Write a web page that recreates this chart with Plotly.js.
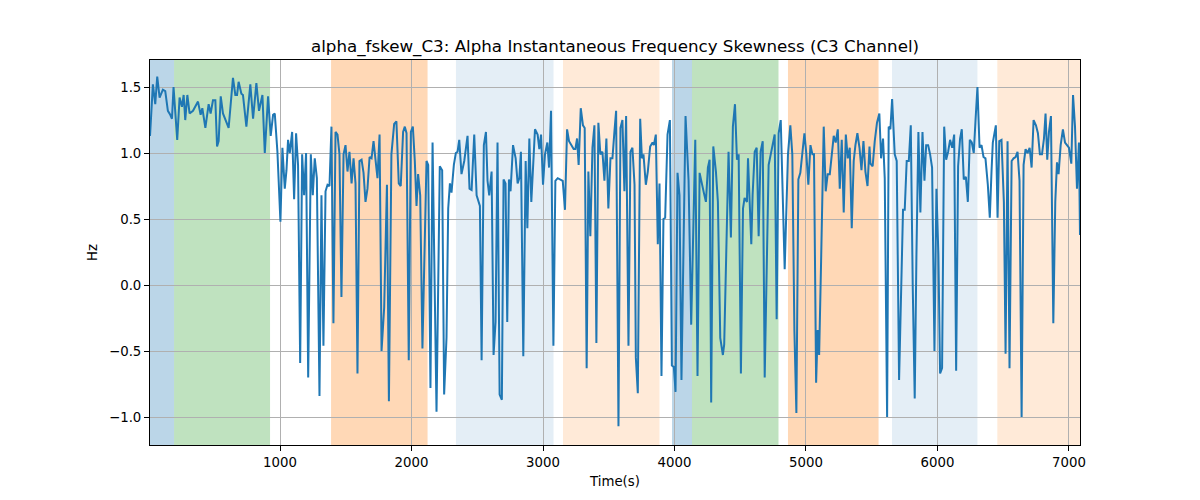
<!DOCTYPE html>
<html>
<head>
<meta charset="utf-8">
<script src="https://cdn.plot.ly/plotly-3.0.1.min.js"></script>
<style>
  body { margin: 0; background: #fff; }
  #chart { width: 1200px; height: 500px; }
</style>
</head>
<body>
<div id="chart"></div>
<script>
// sample times (s) and skewness values (Hz)
var time = [
  11,33,51,66,84,109,127,147,165,178,190,218,236,254,267,279,295,312,338,363,376,396,409,432,457,472,490,508,521,533,549,566,592,609,642,660,673,685,706,718,744,774,795,820,840,866,884,
  909,929,947,960,980,1003,1018,1036,1049,1061,1074,1092,1107,1122,1137,1153,1168,1183,1198,1214,1234,1249,1264,1280,1300,1315,1330,1346,1361,1376,1391,1406,1422,1437,1452,1467,1483,1498,1513,1528,1544,1559,1574,1589,1604,1620,1635,1650,1665,1681,1696,1711,1726,1741,1757,1772,1792,1813,1828,
  1847,1868,1885,1903,1918,1936,1949,1962,1979,1995,2010,2025,2038,2050,2066,2083,2114,2127,2144,2160,2190,2215,2233,2248,2266,2279,2292,2304,2322,2337,2350,2363,2380,2401,2426,2441,2457,2477,2495,2520,2533,2550,2566,2578,2591,2609,2624,2639,2654,2670,2687,2700,2715,2728,2741,2753,
  2772,2792,2807,2820,2832,2850,2868,2881,2896,2911,2939,2959,2972,2985,3000,3015,3033,3046,3061,3079,3094,3112,3137,3150,3167,3183,3198,3218,3233,3246,3259,3271,3287,3304,3317,3332,3345,3360,3376,3391,3406,3421,3436,3452,3467,3482,3497,3513,3528,3543,3556,3574,3589,3604,3619,3632,3650,3665,3680,
  3696,3706,3721,3739,3752,3764,3782,3797,3815,3833,3843,3858,3873,3886,3901,3916,3929,3947,3965,3980,3995,4008,4023,4038,4053,4084,4107,4127,4158,4175,4191,4208,4223,4239,4254,4267,4279,4295,4315,4330,4348,4368,4378,4411,4429,4444,4460,4475,4488,4505,4521,4533,4551,4559,4584,
  4594,4610,4625,4640,4655,4671,4686,4704,4716,4732,4747,4762,4777,4792,4808,4823,4838,4863,4881,4896,4912,4927,4942,4957,4973,4988,5003,5018,5034,5049,5061,5077,5089,5100,5115,5135,5150,5165,5181,5196,5211,5226,5242,5257,5272,5287,5303,5318,5333,5348,5363,5376,5391,5407,5422,5437,5452,5468,5483,
  5490,5507,5523,5540,5558,5571,5586,5599,5617,5629,5642,5655,5675,5690,5708,5726,5738,5751,5766,5782,5797,5812,5827,5840,5855,5870,5886,5901,5914,5929,5944,5959,5977,5992,6007,6020,6035,6051,6066,6081,6096,6112,6127,6142,6157,6172,6185,6200,6216,6231,6246,6261,6276,6289,6304,6320,6335,6350,6365,6383,6398,6411,6421,
  6444,6457,6470,6487,6505,6518,6533,6548,6564,6579,6594,6609,6624,6640,6655,6670,6685,6701,6716,6731,6749,6764,6779,6795,6810,6822,6835,6848,6863,6881,6896,6909,6921,6937,6954,6970,6985,7000,7018,7031,7046,7061,7076,7084
];
var hz = [
  1.13,1.52,1.37,1.58,1.42,1.48,1.47,1.32,1.29,1.26,1.50,1.10,1.42,1.35,1.44,1.25,1.44,1.30,1.32,1.37,1.39,1.29,1.34,1.19,1.37,1.30,1.40,1.40,1.05,1.09,1.43,1.30,1.24,1.19,1.57,1.44,1.44,1.54,1.45,1.44,1.20,1.52,1.26,1.53,1.32,1.44,1.00,
  1.43,1.13,1.29,1.30,1.01,0.48,1.04,0.73,0.87,1.10,1.00,1.16,0.65,1.15,0.91,-0.59,0.99,0.68,1.00,-0.70,0.99,0.68,0.96,0.81,-0.84,0.68,-0.46,0.71,0.76,0.75,1.20,-0.29,1.16,1.14,0.99,-0.09,0.99,1.06,0.86,1.01,0.77,0.96,0.77,-0.67,0.94,0.95,0.85,0.63,0.73,0.97,0.96,1.09,0.92,0.81,1.14,-0.50,-0.17,0.76,-0.88,
  0.99,1.22,1.24,0.77,0.75,1.16,1.20,1.15,-0.57,1.16,1.20,0.94,0.60,0.84,0.68,-0.48,0.94,0.91,-0.78,1.08,-0.96,0.90,0.87,-0.83,-0.40,0.58,0.77,0.70,0.91,1.00,1.01,1.10,0.84,0.94,1.13,0.73,0.72,1.14,0.68,0.60,-0.57,1.06,1.16,0.79,0.68,0.86,-0.53,-0.28,1.08,-0.83,-0.87,0.80,0.77,-0.28,0.80,0.71,
  1.06,0.96,0.77,0.81,1.01,-0.54,0.94,0.43,1.11,0.63,1.18,1.14,1.03,1.14,0.76,0.99,1.08,0.89,1.32,-0.46,0.79,0.81,0.80,0.79,0.57,1.18,1.09,1.05,1.03,1.03,1.11,0.91,1.34,1.21,1.19,-0.63,0.86,0.37,1.04,1.21,-0.44,1.23,0.99,1.01,0.79,1.11,0.58,0.96,0.96,1.16,1.32,-1.07,1.19,1.25,0.71,1.28,-0.46,1.01,1.04,
  0.76,-0.55,-0.82,1.26,0.96,0.99,0.76,0.86,1.05,1.08,1.06,1.14,0.31,0.77,-0.69,0.50,0.51,1.14,1.25,-0.61,-0.62,-0.81,0.85,0.68,-0.72,1.28,0.79,-0.30,1.10,-0.69,0.85,0.76,0.70,0.63,0.89,0.95,-0.89,1.05,0.86,0.63,-0.40,-0.53,-0.45,1.01,0.36,1.20,1.37,0.95,0.99,-0.67,0.58,0.66,0.63,0.96,0.31,
  0.68,1.01,1.04,0.37,1.01,1.09,-0.70,0.23,0.91,0.99,1.08,1.14,-0.26,1.15,1.25,0.68,0.12,0.99,1.21,0.99,-0.35,-0.97,0.80,0.85,1.00,1.15,0.99,0.76,1.06,0.99,0.99,-0.74,-0.34,-0.53,0.18,1.20,0.71,0.84,0.84,1.01,1.13,1.08,1.18,0.73,1.10,0.55,1.14,0.96,1.04,0.43,0.94,1.06,1.15,1.04,0.87,1.09,0.86,0.75,1.05,
  0.92,0.90,1.09,1.23,1.30,0.96,1.11,0.81,-1.00,1.20,1.18,1.41,0.99,0.94,-0.72,0.23,0.57,0.57,0.94,0.94,1.21,-0.02,-0.86,0.23,1.16,0.55,1.16,0.79,1.06,1.06,0.99,0.89,-0.50,0.73,0.23,-0.67,-0.63,1.20,0.95,1.01,1.10,1.04,1.14,-0.65,0.90,1.11,1.18,0.80,0.82,0.63,1.10,1.08,1.00,1.24,1.50,1.04,1.06,0.97,0.96,0.76,0.51,0.86,1.08,
  1.21,0.51,1.09,1.10,0.63,-0.52,1.09,-0.63,0.94,0.96,0.97,1.01,0.79,-1.00,0.91,1.03,1.00,1.04,0.89,1.25,1.21,1.15,0.99,0.99,1.11,1.30,0.95,1.16,1.28,-0.29,0.63,0.93,0.84,1.06,1.18,1.08,1.06,1.04,0.92,1.44,1.20,0.73,1.08,0.38
];

// shaded intervals (s)
var spanStart = [11, 194, 1388, 2338, 3152, 3981, 4133, 4863, 5654, 6455];
var spanEnd   = [194, 924, 2122, 3080, 3886, 4133, 4791, 5552, 6304, 7084];
var spanKind  = ['blue', 'green', 'orange', 'lightblue', 'lightorange', 'blue', 'green', 'orange', 'lightblue', 'lightorange'];

var spanColors = {
  blue: 'rgba(31,119,180,0.3)',
  green: 'rgba(44,160,44,0.3)',
  orange: 'rgba(255,127,14,0.3)',
  lightblue: 'rgba(31,119,180,0.12)',
  lightorange: 'rgba(255,127,14,0.16)'
};

var shapes = spanStart.map(function (s, i) {
  return {
    type: 'rect', xref: 'x', yref: 'paper',
    x0: s, x1: spanEnd[i], y0: 0, y1: 1,
    fillcolor: spanColors[spanKind[i]],
    line: {width: 0},
    layer: 'below'
  };
});

var trace = {
  x: time,
  y: hz,
  mode: 'lines',
  type: 'scatter',
  line: {color: '#1f77b4', width: 2},
  hoverinfo: 'x+y'
};

var font = {family: 'DejaVu Sans, sans-serif', color: '#000'};

var layout = {
  width: 1200,
  height: 500,
  margin: {l: 150, r: 120, t: 60, b: 55},
  paper_bgcolor: '#fff',
  plot_bgcolor: '#fff',
  showlegend: false,
  font: {family: font.family, size: 13.3, color: '#000'},
  title: {
    text: 'alpha_fskew_C3: Alpha Instantaneous Frequency Skewness (C3 Channel)',
    font: {family: font.family, size: 16.7, color: '#000'},
    x: 0.5, xref: 'paper', xanchor: 'center',
    y: 0.908, yref: 'container', yanchor: 'middle'
  },
  xaxis: {
    range: [11, 7084],
    tickvals: [1000, 2000, 3000, 4000, 5000, 6000, 7000],
    ticks: 'outside', ticklen: 5, tickcolor: '#000',
    showline: true, mirror: true, linecolor: '#000', linewidth: 1,
    showgrid: true, gridcolor: '#b0b0b0', gridwidth: 1,
    zeroline: false,
    tickfont: {size: 13.3},
    title: {text: 'Time(s)', font: {size: 13.3}, standoff: 7}
  },
  yaxis: {
    range: [-1.212, 1.705],
    tickvals: [-1.0, -0.5, 0.0, 0.5, 1.0, 1.5],
    tickformat: '.1f',
    ticks: 'outside', ticklen: 5, tickcolor: '#000',
    showline: true, mirror: true, linecolor: '#000', linewidth: 1,
    showgrid: true, gridcolor: '#b0b0b0', gridwidth: 1,
    zeroline: false,
    tickfont: {size: 13.3},
    title: {text: 'Hz', font: {size: 13.3}, standoff: 8}
  },
  shapes: shapes
};

Plotly.newPlot('chart', [trace], layout, {displayModeBar: false, staticPlot: true});
</script>
</body>
</html>
